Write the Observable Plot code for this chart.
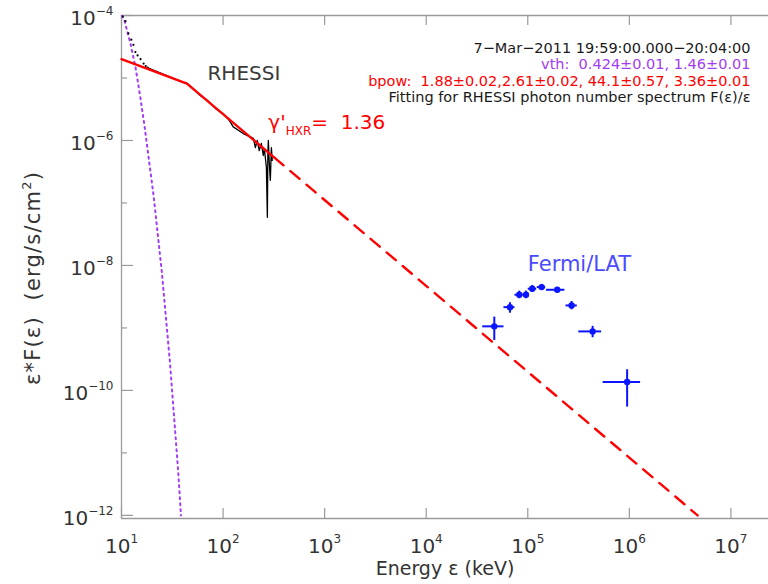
<!DOCTYPE html>
<html><head><meta charset="utf-8">
<script src="https://cdn.jsdelivr.net/npm/d3@7"></script>
<script src="https://cdn.jsdelivr.net/npm/@observablehq/plot@0.6"></script>
<style>
html,body{margin:0;padding:0;background:#fff;}
#chart{width:768px;height:584px;overflow:hidden;}
</style></head><body><div id="chart"></div>
<script>
// ---- data ----
const xTicks = [1e1, 1e2, 1e3, 1e4, 1e5, 1e6, 1e7];
const yMajorTicks = [1e-12, 1e-10, 1e-8, 1e-6, 1e-4];
const yMinorTicks = [1e-11, 1e-9, 1e-7, 1e-5];

// thermal (vth) component, keV / erg s^-1 cm^-2
const thermalE = [10.1, 10.7, 12.26, 13.73, 15.14, 16.83, 20.78, 25, 30, 36.1, 38.5];
const thermalF = [1.0e-4, 8.3e-5, 3.53e-5, 1.49e-5, 5.58e-6, 1.74e-6, 1.24e-7, 7.6e-9, 2.8e-10, 5.25e-12, 1.0e-12];

// RHESSI data, low-energy part (drawn dotted)
const rhessiLowE = [10.3, 10.95, 11.7, 12.5, 13.1, 13.7, 14.4, 15.4, 16.5, 17.3, 18.0];
const rhessiLowF = [9.6e-5, 8.1e-5, 5.2e-5, 4.1e-5, 3.4e-5, 2.6e-5, 2.3e-5, 2.0e-5, 1.7e-5, 1.55e-5, 1.47e-5];

// RHESSI data, continuum
const rhessiE = [18, 20, 23, 26, 30, 35, 40, 44, 50, 60, 70, 85, 100, 115, 126, 158, 199, 208, 217, 227, 238, 249, 255, 267, 273, 276, 279, 285, 292, 299, 305];
const rhessiF = [1.47e-5, 1.36e-5, 1.24e-5, 1.14e-5, 1.04e-5, 9.3e-6, 8.6e-6, 8.2e-6, 6.9e-6, 5.2e-6, 4.4e-6, 3.2e-6, 2.7e-6, 2.1e-6, 1.65e-6, 1.29e-6, 1.08e-6, 7.7e-7, 1.0e-6, 6.9e-7, 8.95e-7, 5.75e-7, 7.45e-7, 3.7e-7, 5.9e-8, 6.2e-7, 1.0e-6, 4.4e-7, 2.3e-7, 7.7e-7, 4.8e-7];

// broken power-law fit (bpow), solid over the data and dashed extrapolation
const fitSolidE = [10, 44.1, 320];
const fitSolidF = [2.0e-5, 8.13e-6, 5.33e-7];
const fitDashE = [320, 4.7e6];
const fitDashF = [5.33e-7, 1.0e-12];

// Fermi/LAT points with error bars
const fermiE   = [4.68e4, 6.68e4, 8.25e4, 9.60e4, 1.107e5, 1.37e5, 1.95e5, 2.70e5, 4.35e5, 9.51e5];
const fermiElo = [3.60e4, 5.83e4, 7.48e4, 8.91e4, 1.01e5, 1.24e5, 1.53e5, 2.38e5, 3.18e5, 5.52e5];
const fermiEhi = [5.83e4, 7.48e4, 8.91e4, 1.035e5, 1.224e5, 1.50e5, 2.32e5, 3.07e5, 5.33e5, 1.29e6];
const fermiF   = [1.06e-9, 2.15e-9, 3.40e-9, 3.40e-9, 4.24e-9, 4.50e-9, 4.08e-9, 2.29e-9, 8.79e-10, 1.36e-10];
const fermiFlo = [6.3e-10, 1.72e-9, 2.93e-9, 2.93e-9, 3.74e-9, 4.08e-9, 3.74e-9, 1.95e-9, 6.97e-10, 5.41e-11];
const fermiFhi = [1.49e-9, 2.53e-9, 3.88e-9, 3.88e-9, 4.79e-9, 4.97e-9, 4.40e-9, 2.65e-9, 1.06e-9, 2.14e-10];

const infoLines = [
  "7\u2212Mar\u22122011 19:59:00.000\u221220:04:00",
  "vth:  0.424\u00b10.01, 1.46\u00b10.01",
  "bpow:  1.88\u00b10.02,2.61\u00b10.02, 44.1\u00b10.57, 3.36\u00b10.01",
  "Fitting for RHESSI photon number spectrum F(\u03b5)/\u03b5"
];
const infoColors = ["#1a1a1a", "#a23cf5", "#ff0000", "#1a1a1a"];

// ---- build tables ----
const zip = (xs, ys) => xs.map((x, i) => ({x, y: ys[i]}));
const thermal = zip(thermalE, thermalF);
const rhessiLow = zip(rhessiLowE, rhessiLowF);
const rhessi = zip(rhessiE, rhessiF);
const fitSolid = zip(fitSolidE, fitSolidF);
const fitDash = zip(fitDashE, fitDashF);
const fermi = fermiE.map((e, i) => ({e, elo: fermiElo[i], ehi: fermiEhi[i], f: fermiF[i], flo: fermiFlo[i], fhi: fermiFhi[i]}));

const W = 768, H = 584, mL = 121, mR = 0, mT = 15, mB = 66;
const frameW = W - mL - mR, frameH = H - mT - mB;
const FONT = "DejaVu Sans";
const AX = "#9a9a9a", TXT = "#333";
const BLUE = "#0a14ff", RED = "#ff0000", PURPLE = "#a23cf5";
const expFmt = d => "10^" + String(Math.round(Math.log10(d))).replace("-", "\u2212");

const plot = Plot.plot({
  width: W, height: H,
  marginLeft: mL, marginRight: mR, marginTop: mT, marginBottom: mB,
  style: {fontFamily: FONT, background: "#fff", color: TXT},
  x: {type: "log", domain: [10, 10 ** 7.37]},
  y: {type: "log", domain: [10 ** -12.05, 1e-4]},
  marks: [
    // axes lines (left, bottom, top)
    Plot.ruleX([10], {stroke: AX, strokeWidth: 1.3}),
    Plot.ruleY([10 ** -12.05, 1e-4], {stroke: AX, strokeWidth: 1.3}),
    // inward ticks
    Plot.tickX(xTicks, {x: d => d, stroke: AX, strokeWidth: 1.2, insetTop: frameH - 10}),
    Plot.tickX(xTicks, {x: d => d, stroke: AX, strokeWidth: 1.2, insetBottom: frameH - 10}),
    Plot.tickY(yMajorTicks, {y: d => d, stroke: AX, strokeWidth: 1.2, insetRight: frameW - 12}),
    Plot.tickY(yMinorTicks, {y: d => d, stroke: AX, strokeWidth: 1.2, insetRight: frameW - 6}),
    // tick labels
    Plot.axisX(xTicks, {tickSize: 0, tickPadding: 20, fontSize: 20, tickFormat: expFmt, label: null, fill: TXT}),
    Plot.axisY(yMajorTicks, {tickSize: 0, tickPadding: 8, fontSize: 20, tickFormat: expFmt, label: null, fill: TXT, dy: 3}),
    // titles
    Plot.text(["Energy \u03b5 (keV)"], {frameAnchor: "bottom", dy: 56, fontSize: 19, fill: TXT}),
    Plot.text(["YLABEL"], {frameAnchor: "left", textAnchor: "middle", dx: -88, dy: 11, rotate: -90, fontSize: 21, fill: TXT}),
    // thermal component
    Plot.line(thermal, {x: "x", y: "y", stroke: PURPLE, strokeWidth: 2, strokeDasharray: "2,4", clip: true}),
    // RHESSI data
    Plot.dot(rhessiLow, {x: "x", y: "y", r: 1.1, fill: "#000", stroke: null}),
    Plot.line(rhessi, {x: "x", y: "y", stroke: "#000", strokeWidth: 1.3}),
    // fit
    Plot.line(fitSolid, {x: "x", y: "y", stroke: RED, strokeWidth: 2.4}),
    Plot.line(fitDash, {x: "x", y: "y", stroke: RED, strokeWidth: 2.4, strokeDasharray: "12,9", clip: true}),
    // Fermi/LAT
    Plot.ruleY(fermi, {y: "f", x1: "elo", x2: "ehi", stroke: BLUE, strokeWidth: 2}),
    Plot.ruleX(fermi, {x: "e", y1: "flo", y2: "fhi", stroke: BLUE, strokeWidth: 2}),
    Plot.dot(fermi, {x: "e", y: "f", r: 3.2, fill: BLUE, stroke: null}),
    // annotations
    Plot.text(["RHESSI"], {x: 70.2, y: 1.16e-5, textAnchor: "start", fontSize: 20, fill: "#3a3a3a"}),
    Plot.text(["Fermi/LAT"], {x: 1.0e5, y: 1.06e-8, textAnchor: "start", fontSize: 21, fill: "#4a4aff"}),
    Plot.text(["GAMMA_LABEL"], {x: 279, y: 1.94e-6, textAnchor: "start", fontSize: 20, fill: RED}),
    ...infoLines.map((t, i) => Plot.text([t], {frameAnchor: "top-right", textAnchor: "end", dx: -18, dy: 27 + i * 16.4, fontSize: 14.5, fill: infoColors[i]}))
  ]
});

// superscript exponents on tick labels
d3.select(plot).selectAll('g[aria-label="x-axis tick label"] text, g[aria-label="y-axis tick label"] text').each(function () {
  const m = this.textContent.match(/^10\^(.+)$/);
  if (!m) return;
  this.textContent = "";
  const s = d3.select(this);
  s.append("tspan").text("10");
  s.append("tspan").attr("dy", -10).attr("font-size", 12).text(m[1]);
});
// gamma label with subscript
d3.select(plot).selectAll("text").filter(function () { return this.textContent === "GAMMA_LABEL"; }).each(function () {
  this.textContent = "";
  const s = d3.select(this);
  s.append("tspan").text("\u03b3'");
  s.append("tspan").attr("dy", 6).attr("font-size", 12).text("HXR");
  s.append("tspan").attr("dy", -6).text("=  1.36");
});
// y-axis title with superscript 2
d3.select(plot).selectAll("text").filter(function () { return this.textContent === "YLABEL"; }).each(function () {
  this.textContent = "";
  const s = d3.select(this).style("letter-spacing", "1.2px");
  s.append("tspan").text("\u03b5*F(\u03b5)  (erg/s/cm");
  s.append("tspan").attr("dy", -9).attr("font-size", 13).text("2");
  s.append("tspan").attr("dy", 9).text(")");
});

document.getElementById("chart").appendChild(plot);
</script>
</body></html>
